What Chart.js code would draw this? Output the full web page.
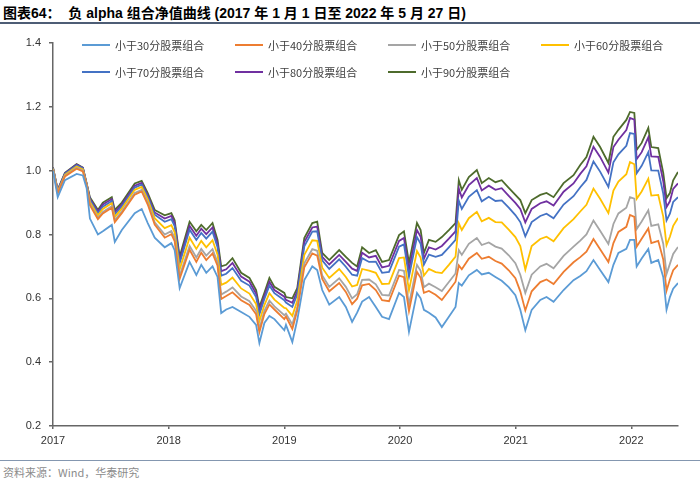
<!doctype html>
<html lang="zh-CN">
<head>
<meta charset="utf-8">
<title>负 alpha 组合净值曲线</title>
<script src="https://cdn.jsdelivr.net/npm/chart.js@4"></script>
<style>
  body { margin: 0; background: #fff; width: 700px; height: 481px; position: relative; overflow: hidden; }
  #title { position: absolute; left: 3px; top: 2px; font: bold 14px "Liberation Sans", "Noto Sans CJK SC", sans-serif; color: #000; white-space: nowrap; }
  #rule1 { position: absolute; left: 0; top: 22px; width: 700px; height: 2px; background: #4d5d75; }
  #box { position: absolute; left: 0; top: 0; width: 700px; height: 460px; }
  .item { position: absolute; height: 16px; display: flex; align-items: center; font: 11px "Noto Sans CJK SC", sans-serif; color: #404040; white-space: nowrap; }
  .item .ln { display: inline-block; width: 28px; height: 2px; margin-right: 5px; }
  #rule2 { position: absolute; left: 0; top: 460px; width: 700px; height: 1px; background: #8497b0; }
  #src { position: absolute; left: 3px; top: 464px; font: 11px "Noto Sans CJK SC", sans-serif; color: #8c8c8c; }
</style>
</head>
<body>
<div id="title">图表64：&nbsp;&nbsp;负 alpha 组合净值曲线 (2017 年 1 月 1 日至 2022 年 5 月 27 日)</div>
<div id="rule1"></div>
<div id="box"><canvas id="chart"></canvas></div>
<div id="legend"></div>
<div id="rule2"></div>
<div id="src">资料来源：Wind，华泰研究</div>

<script>
// months since 2017-01-01 (last point = 2022-05-27)
const months = [
  0, 0.49, 1.24, 2.45, 3.1, 3.49, 3.83, 4.66, 5.17, 6.1,
  6.41, 7.14, 8.48, 9.2, 9.83, 10.55, 11.59, 12.28, 12.62, 13.14,
  14.17, 14.87, 15.38, 15.9, 16.55, 17.07, 17.45, 17.97, 18.62, 19.52,
  20.38, 21.07, 21.41, 21.93, 22.45, 22.97, 24.0, 24.17, 24.83, 25.34,
  26.07, 26.9, 27.41, 27.93, 28.66, 29.69, 30.38, 31.03, 31.55, 32.07,
  32.79, 33.49, 34.14, 34.86, 35.9, 36.41, 36.93, 37.76, 38.14, 38.48,
  39.0, 39.69, 40.34, 41.07, 41.76, 42.1, 42.41, 43.14, 43.97, 44.48,
  45.21, 45.9, 46.55, 47.28, 47.97, 48.48, 49.0, 49.66, 50.55, 51.2,
  51.93, 52.97, 54.0, 54.7, 55.34, 56.07, 56.76, 57.62, 58.14, 58.66,
  59.48, 59.86, 60.31, 60.55, 61.07, 61.76, 62.07, 62.79, 63.31, 63.65,
  64.0, 64.34, 64.84
];

const lt30 = [
  1.00, .917, .97, .99, .985, .945, .85, .80, .81, .83,
  .777, .814, .867, .88, .836, .79, .76, .773, .751, .632,
  .714, .673, .705, .68, .70, .667, .554, .565, .573, .557,
  .542, .517, .46, .523, .545, .535, .50, .517, .463, .532,
  .657, .70, .689, .626, .58, .604, .573, .526, .555, .59,
  .604, .573, .542, .535, .617, .604, .495, .617, .60, .564,
  .555, .54, .51, .542, .573, .648, .64, .672, .689, .675,
  .68, .667, .655, .635, .61, .564, .50, .564, .595, .604,
  .589, .626, .657, .67, .685, .72, .689, .651, .705, .742,
  .755, .783, .783, .70, .725, .755, .711, .72, .667, .564,
  .604, .63, .648
];
const lt40 = [
  1.002, .929, .982, 1.006, .998, .953, .892, .848, .866, .884,
  .839, .867, .925, .935, .894, .831, .79, .801, .779, .661,
  .752, .714, .743, .72, .741, .702, .598, .607, .619, .594,
  .579, .55, .494, .551, .581, .565, .535, .543, .504, .562,
  .697, .741, .734, .661, .622, .648, .62, .582, .599, .641,
  .645, .626, .594, .591, .671, .666, .56, .683, .664, .617,
  .623, .611, .595, .624, .652, .703, .691, .724, .742, .724,
  .73, .717, .709, .688, .663, .622, .562, .622, .651, .659,
  .645, .683, .713, .729, .746, .786, .754, .714, .773, .808,
  .824, .861, .855, .762, .787, .819, .773, .78, .722, .624,
  .659, .688, .705
];
const lt50 = [
  1.004, .931, .984, 1.009, 1.0, .954, .896, .852, .871, .889,
  .845, .872, .930, .940, .900, .838, .80, .811, .789, .671,
  .764, .728, .755, .734, .754, .713, .612, .621, .634, .606,
  .591, .561, .505, .561, .593, .575, .547, .552, .518, .572,
  .71, .754, .749, .672, .636, .663, .636, .60, .613, .658,
  .659, .644, .611, .609, .689, .686, .581, .705, .686, .635,
  .646, .635, .623, .651, .678, .751, .736, .771, .789, .767,
  .775, .762, .756, .735, .71, .674, .617, .674, .70, .708,
  .694, .733, .762, .781, .80, .844, .812, .77, .833, .866,
  .884, .917, .912, .817, .841, .876, .827, .832, .771, .676,
  .708, .739, .761
];
const lt60 = [
  1.006, .934, .987, 1.013, 1.004, .956, .902, .860, .880, .898,
  .855, .881, .940, .949, .909, .851, .82, .829, .807, .691,
  .790, .755, .78, .76, .782, .737, .642, .649, .665, .631,
  .615, .582, .528, .579, .616, .596, .57, .569, .545, .592,
  .736, .782, .78, .696, .664, .692, .667, .637, .642, .692,
  .687, .68, .645, .646, .726, .728, .625, .748, .728, .671,
  .692, .682, .679, .705, .731, .835, .814, .851, .871, .841,
  .852, .839, .838, .815, .792, .764, .69, .764, .786, .793,
  .779, .82, .848, .872, .893, .944, .912, .867, .938, .966,
  .989, 1.027, 1.02, .912, .935, .975, .922, .924, .856, .767,
  .793, .827, .852
];
const lt70 = [
  1.008, .937, .990, 1.017, 1.007, .958, .908, .866, .887, .905,
  .863, .888, .947, .956, .917, .862, .84, .848, .826, .710,
  .815, .783, .805, .787, .809, .76, .671, .677, .695, .655,
  .64, .604, .55, .598, .64, .616, .594, .587, .573, .612,
  .763, .809, .81, .719, .692, .722, .699, .674, .671, .726,
  .714, .715, .68, .683, .762, .769, .668, .792, .771, .706,
  .737, .73, .736, .76, .783, .906, .88, .918, .939, .904,
  .918, .905, .907, .884, .861, .839, .794, .839, .858, .865,
  .851, .894, .92, .948, .971, 1.029, .997, .949, 1.026, 1.051,
  1.078, 1.118, 1.115, .992, 1.015, 1.058, 1.001, 1.0, .928, .844,
  .865, .902, .917
];
const lt80 = [
  1.009, .939, .992, 1.019, 1.009, .959, .912, .872, .894, .911,
  .870, .894, .953, .962, .923, .869, .85, .858, .836, .720,
  .827, .796, .818, .801, .822, .771, .685, .691, .711, .668,
  .652, .615, .562, .608, .652, .626, .605, .595, .586, .622,
  .776, .822, .825, .73, .706, .736, .714, .693, .686, .743,
  .728, .733, .697, .702, .78, .789, .689, .814, .793, .724,
  .76, .753, .764, .787, .81, .944, .916, .955, .977, .938,
  .953, .94, .945, .921, .899, .88, .838, .88, .898, .904,
  .891, .934, .96, .99, 1.014, 1.075, 1.043, .994, 1.074, 1.097,
  1.127, 1.165, 1.16, 1.036, 1.058, 1.104, 1.045, 1.043, .967, .886,
  .904, .943, .96
];
const lt90 = [
  1.01, .94, .993, 1.021, 1.01, .96, .917, .877, .90, .917,
  .877, .90, .96, .968, .93, .877, .86, .867, .845, .73,
  .84, .81, .83, .814, .836, .783, .70, .705, .726, .68,
  .664, .626, .573, .617, .664, .636, .617, .604, .60, .632,
  .789, .836, .84, .742, .72, .751, .73, .711, .70, .76,
  .742, .751, .714, .72, .798, .81, .711, .836, .814, .742,
  .783, .777, .792, .814, .836, .97, .94, .98, 1.002, .961,
  .977, .964, .97, .946, .924, .908, .867, .908, .924, .93,
  .917, .961, .986, 1.018, 1.043, 1.106, 1.074, 1.024, 1.106, 1.128,
  1.159, 1.184, 1.181, 1.065, 1.087, 1.134, 1.074, 1.071, .993, .914,
  .93, .97, .996
];

const names = ['小于30分股票组合', '小于40分股票组合', '小于50分股票组合', '小于60分股票组合',
               '小于70分股票组合', '小于80分股票组合', '小于90分股票组合'];
const colors = ['#5b9bd5', '#ed7d31', '#a5a5a5', '#ffc000', '#4472c4', '#7030a0', '#4e6b2c'];
const series = [lt30, lt40, lt50, lt60, lt70, lt80, lt90];
const yearTicks = [2017, 2018, 2019, 2020, 2021, 2022];

// legend (4 per row)
const legend = document.getElementById('legend');
names.forEach((n, i) => {
  const d = document.createElement('div');
  d.className = 'item';
  d.style.left = (82 + (i % 4) * 153) + 'px';
  d.style.top = (37 + Math.floor(i / 4) * 27) + 'px';
  d.innerHTML = '<span class="ln" style="background:' + colors[i] + '"></span>' + n;
  legend.appendChild(d);
});

const axisColor = '#666666';
const tickFont = { family: '"Liberation Sans Narrow", "Liberation Sans", sans-serif', size: 11 };

new Chart(document.getElementById('chart'), {
  type: 'line',
  data: {
    datasets: series.map((s, i) => ({
      label: names[i],
      data: s.map((v, j) => ({ x: months[j], y: v })),
      borderColor: colors[i],
      backgroundColor: colors[i],
      borderWidth: 1.8,
      pointRadius: 0,
      tension: 0
    }))
  },
  options: {
    responsive: true,
    maintainAspectRatio: false,
    animation: false,
    layout: { padding: { top: 43, right: 22, bottom: 0, left: 0 } },
    plugins: { legend: { display: false }, tooltip: { enabled: false } },
    scales: {
      x: {
        type: 'linear',
        min: 0,
        max: 64.84,
        afterFit: s => { s.height = 34; },
        grid: { drawOnChartArea: false, drawTicks: true, tickLength: 3, color: axisColor, lineWidth: 1.5 },
        border: { color: axisColor, width: 1.5 },
        ticks: {
          stepSize: 12,
          includeBounds: false,
          autoSkip: false,
          maxRotation: 0,
          padding: 5,
          color: '#333333',
          font: tickFont,
          callback: v => yearTicks[v / 12]
        }
      },
      y: {
        min: 0.2,
        max: 1.4,
        afterFit: s => { s.width = 53; },
        grid: { drawOnChartArea: false, drawTicks: true, tickLength: 4, color: axisColor, lineWidth: 1.5 },
        border: { color: axisColor, width: 1.5 },
        ticks: {
          stepSize: 0.2,
          padding: 8,
          color: '#333333',
          font: tickFont,
          callback: v => v.toFixed(1)
        }
      }
    }
  }
});
</script>
</body>
</html>
